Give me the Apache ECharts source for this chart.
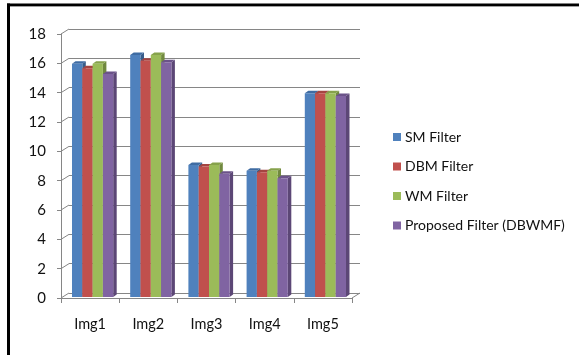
<!DOCTYPE html>
<html>
<head>
<meta charset="utf-8">
<script src="https://cdn.jsdelivr.net/npm/echarts@6/dist/echarts.min.js"></script>
<style>
  html, body { margin: 0; padding: 0; background: #fff; }
  #chart { width: 579px; height: 355px; }
</style>
</head>
<body>
<div id="chart"></div>
<script>
// Filter comparison per test image
const categories = ['Img1', 'Img2', 'Img3', 'Img4', 'Img5'];
const seriesNames = ['SM Filter', 'DBM Filter', 'WM Filter', 'Proposed Filter (DBWMF)'];
const smValues = [15.9, 16.5, 9.0, 8.6, 13.9];
const dbmValues = [15.6, 16.1, 8.9, 8.5, 13.9];
const wmValues = [15.9, 16.5, 9.0, 8.6, 13.9];
const proposedValues = [15.2, 16.0, 8.4, 8.1, 13.7];
const yTicks = [0, 2, 4, 6, 8, 10, 12, 14, 16, 18];

const allValues = [smValues, dbmValues, wmValues, proposedValues];
const faceColors = ['#4F81BD', '#C0504D', '#9BBB59', '#8064A2'];
const sideColors = ['#385D8A', '#8C3836', '#71893F', '#5C4776'];
const topColors = ['#3F6CA3', '#A54441', '#86A24B', '#6B5389'];

// depth offset of the back wall and of the bar caps
const WALL_DX = 8, WALL_DY = -5;
const BAR_DX = 3.5, BAR_DY = -2.5;
const GRID_COLOR = '#868686';
const FONT = 'Lato';

function barRenderer(idx) {
  return function (params, api) {
    const cat = api.value(0);
    const val = api.value(1);
    const top = api.coord([cat, val]);
    const base = api.coord([cat, 0]);
    const catW = api.size([1, 0])[0];
    const w = catW * 0.177;
    const x = top[0] - 2 * w + idx * w + 2.5;
    const yTop = top[1] - 1;
    const yBot = base[1] - 1;
    return {
      type: 'group',
      children: [
        {
          type: 'polygon',
          shape: { points: [[x + w, yTop], [x + w + BAR_DX, yTop + BAR_DY], [x + w + BAR_DX, yBot + BAR_DY], [x + w, yBot]] },
          style: { fill: sideColors[idx] }
        },
        {
          type: 'polygon',
          shape: { points: [[x, yTop], [x + w, yTop], [x + w + BAR_DX, yTop + BAR_DY], [x + BAR_DX, yTop + BAR_DY]] },
          style: { fill: topColors[idx] }
        },
        {
          type: 'rect',
          shape: { x: x, y: yTop, width: w, height: yBot - yTop },
          style: { fill: faceColors[idx] }
        }
      ]
    };
  };
}

// left wall diagonals and right floor edge
function wallRenderer(params, api) {
  const v = api.value(0);
  const cs = params.coordSys;
  const p = api.coord([0, v]);
  const children = [{
    type: 'line',
    shape: { x1: cs.x, y1: p[1], x2: cs.x + WALL_DX, y2: p[1] + WALL_DY },
    style: { stroke: GRID_COLOR, lineWidth: 1 }
  }];
  if (v === 0) {
    children.push({
      type: 'line',
      shape: { x1: cs.x + cs.width, y1: p[1], x2: cs.x + cs.width + WALL_DX, y2: p[1] + WALL_DY },
      style: { stroke: GRID_COLOR, lineWidth: 1 }
    });
  }
  return { type: 'group', children: children };
}

const chart = echarts.init(document.getElementById('chart'), null, { renderer: 'canvas' });

const series = [{
  type: 'custom',
  name: 'wall',
  xAxisIndex: 0, yAxisIndex: 0,
  data: yTicks.map(v => [v]),
  renderItem: wallRenderer,
  silent: true,
  clip: false,
  z: 1
}];
allValues.forEach((vals, i) => {
  series.push({
    type: 'custom',
    name: seriesNames[i],
    xAxisIndex: 0, yAxisIndex: 0,
    data: vals.map((v, j) => [j, v]),
    encode: { x: 0, y: 1 },
    renderItem: barRenderer(i),
    itemStyle: { color: faceColors[i] },
    clip: false,
    z: 3
  });
});

chart.setOption({
  animation: false,
  backgroundColor: '#fff',
  textStyle: { fontFamily: FONT },
  grid: [
    { left: 61, top: 34, width: 291, height: 264 },
    { left: 61 + WALL_DX, top: 34 + WALL_DY, width: 291, height: 264 }
  ],
  xAxis: [
    {
      type: 'category', gridIndex: 0, data: categories,
      axisLine: { lineStyle: { color: GRID_COLOR } },
      axisTick: { show: true, length: 5, lineStyle: { color: GRID_COLOR } },
      axisLabel: { color: '#111', fontSize: 14.5, fontFamily: FONT, margin: 19 }
    },
    {
      type: 'category', gridIndex: 1, data: categories, show: false
    }
  ],
  yAxis: [
    {
      type: 'value', gridIndex: 0, min: 0, max: 18, interval: 2,
      axisLine: { show: true, lineStyle: { color: GRID_COLOR } },
      axisTick: { show: true, length: 4, lineStyle: { color: GRID_COLOR } },
      axisLabel: { color: '#111', fontSize: 15, fontFamily: FONT, margin: 15 },
      splitLine: { show: false }
    },
    {
      type: 'value', gridIndex: 1, min: 0, max: 18, interval: 2,
      axisLine: { show: false }, axisTick: { show: false }, axisLabel: { show: false },
      splitLine: { show: true, lineStyle: { color: GRID_COLOR, width: 1 } }
    }
  ],
  legend: {
    orient: 'vertical',
    left: 388, top: 125,
    itemWidth: 8, itemHeight: 8, itemGap: 15.5,
    icon: 'rect',
    data: seriesNames,
    textStyle: { color: '#111', fontSize: 14, fontFamily: FONT, lineHeight: 14, padding: [0, 0, 0, -1] }
  },
  graphic: [
    { type: 'rect', shape: { x: 7, y: 3.5, width: 572, height: 2.5 }, style: { fill: '#000' }, silent: true },
    { type: 'rect', shape: { x: 7, y: 6, width: 572, height: 1 }, style: { fill: '#a0a0a0' }, silent: true },
    { type: 'rect', shape: { x: 7, y: 3.5, width: 3, height: 352 }, style: { fill: '#000' }, silent: true }
  ],
  series: series
});
</script>
</body>
</html>
